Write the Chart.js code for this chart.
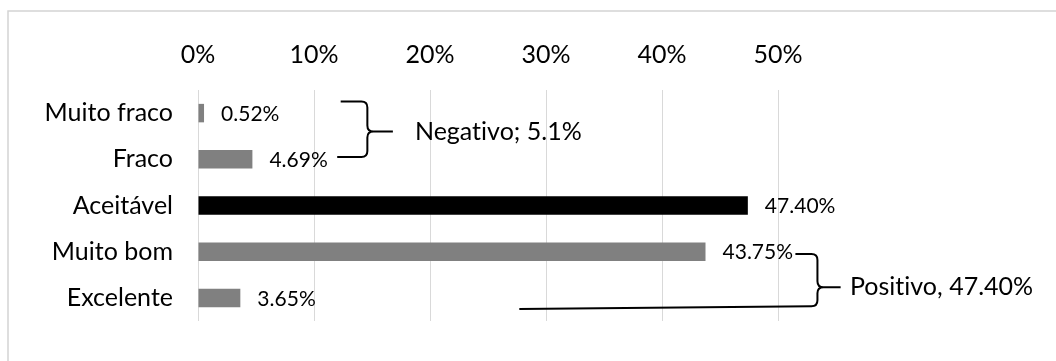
<!DOCTYPE html>
<html lang="pt">
<head>
    <meta charset="UTF-8">
    <title>Avaliação</title>
    <script src="https://cdn.jsdelivr.net/npm/chart.js"></script>
    <style>
        body { margin: 0; background: #fff; }
    </style>
</head>
<body>
    <canvas id="chart" width="1056" height="361"></canvas>

    <script>
        const categories = ['Muito fraco', 'Fraco', 'Aceitável', 'Muito bom', 'Excelente'];
        const values = [0.52, 4.69, 47.40, 43.75, 3.65];
        const barColors = ['#808080', '#808080', '#000000', '#808080', '#808080'];
        const xTicks = [0, 10, 20, 30, 40, 50];

        // chavetas: x em %, y em índice de categoria
        const braces = [
            { text: 'Negativo; 5.1%', xArm: 12.3, xArmLow: 12.0, xV: 14.6, xTip: 16.8, xText: 18.7,
              yTop: -0.25, yMid: 0.4, yBot: 0.95, yBotLow: 0.95 },
            { text: 'Positivo, 47.40%', xArm: 51.5, xArmLow: 27.7, xV: 53.4, xTip: 55.4, xText: 56.2,
              yTop: 3.05, yMid: 3.77, yBot: 4.18, yBotLow: 4.24 }
        ];

        const FONT = 'Lato';

        const frame = {
            id: 'frame',
            beforeDraw(chart) {
                const c = chart.ctx;
                c.save();
                c.strokeStyle = '#d4d4d4';
                c.lineWidth = 1.5;
                c.strokeRect(8, 11, 1200, 500);
                c.restore();
            }
        };

        const labels = {
            id: 'labels',
            afterDatasetsDraw(chart) {
                const c = chart.ctx;
                const meta = chart.getDatasetMeta(0);
                c.save();
                c.letterSpacing = '0.01px'; // sem ligaduras "ti"
                c.font = '21px ' + FONT;
                c.fillStyle = '#000';
                c.textAlign = 'left';
                c.textBaseline = 'middle';
                meta.data.forEach((bar, i) => {
                    c.fillText(values[i].toFixed(2) + '%', bar.x + 17, bar.y + 1);
                });

                const xs = chart.scales.x, ys = chart.scales.y;
                c.strokeStyle = '#000';
                c.lineWidth = 2;
                c.font = '25px ' + FONT;
                braces.forEach(b => {
                    const x0 = xs.getPixelForValue(b.xArm);
                    const x0b = xs.getPixelForValue(b.xArmLow);
                    const xv = xs.getPixelForValue(b.xV);
                    const xt = xs.getPixelForValue(b.xTip);
                    const y1 = ys.getPixelForValue(b.yTop);
                    const ym = ys.getPixelForValue(b.yMid);
                    const y2 = ys.getPixelForValue(b.yBot);
                    const y2b = ys.getPixelForValue(b.yBotLow);
                    const r = 6;
                    c.beginPath();
                    c.moveTo(x0, y1);
                    c.lineTo(xv - r, y1);
                    c.quadraticCurveTo(xv, y1, xv, y1 + r);
                    c.lineTo(xv, ym - r);
                    c.quadraticCurveTo(xv, ym, xv + r, ym);
                    c.lineTo(xt, ym);
                    c.moveTo(xv + r, ym);
                    c.quadraticCurveTo(xv, ym, xv, ym + r);
                    c.lineTo(xv, y2 - r);
                    c.quadraticCurveTo(xv, y2, xv - r, y2);
                    c.lineTo(x0b, y2b);
                    c.stroke();
                    c.fillText(b.text, xs.getPixelForValue(b.xText), ym);
                });
                c.restore();
            }
        };

        new Chart(document.getElementById('chart'), {
            type: 'bar',
            data: {
                labels: categories,
                datasets: [{
                    data: values,
                    backgroundColor: barColors,
                    categoryPercentage: 0.8,
                    barPercentage: 0.5
                }]
            },
            options: {
                indexAxis: 'y',
                responsive: false,
                animation: false,
                layout: { padding: { left: 0, top: 0, right: 278, bottom: 36 } },
                plugins: { legend: { display: false }, tooltip: { enabled: false } },
                scales: {
                    x: {
                        position: 'top',
                        min: 0,
                        max: 50,
                        afterBuildTicks: s => { s.ticks = xTicks.map(v => ({ value: v })); },
                        afterFit: s => { s.height = 90; },
                        grid: { color: '#d9d9d9', drawTicks: false },
                        border: { display: false },
                        ticks: {
                            padding: 20,
                            color: '#000',
                            font: { family: FONT, size: 25 },
                            callback: v => v + '%'
                        }
                    },
                    y: {
                        afterFit: s => { s.width = 198; },
                        grid: { display: false, drawTicks: false },
                        border: { display: false },
                        ticks: {
                            padding: 25,
                            color: '#000',
                            font: { family: FONT, size: 25 }
                        }
                    }
                }
            },
            plugins: [frame, labels]
        });
    </script>
</body>
</html>
